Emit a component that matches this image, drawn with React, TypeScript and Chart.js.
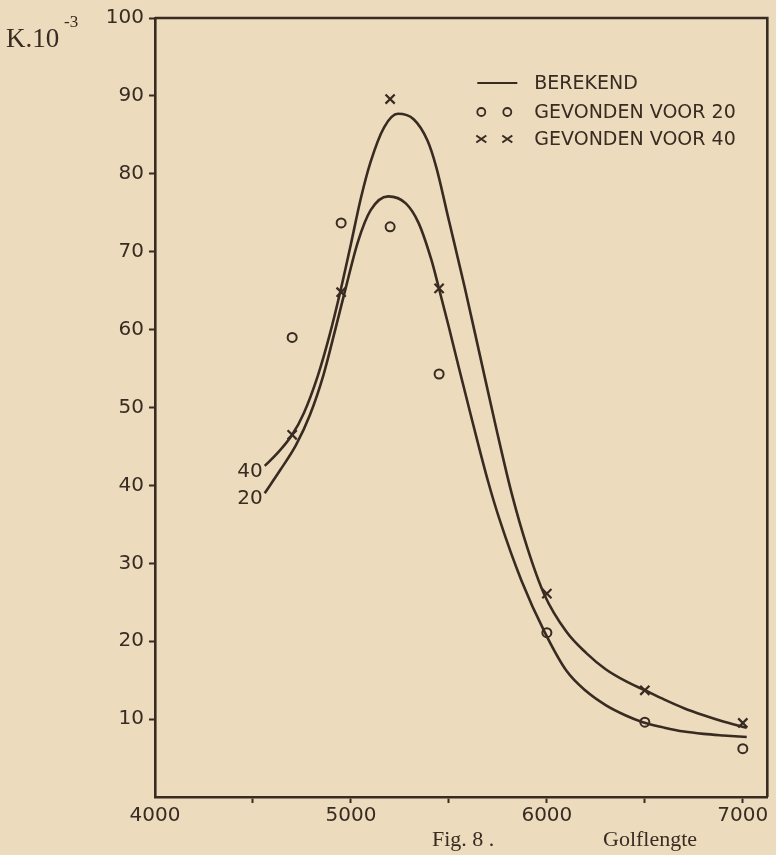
import React, { useEffect, useRef } from 'react';
import { Chart, registerables } from 'chart.js';

Chart.register(...registerables);

const BG = '#ecdbbd';
const INK = '#382b22';

// Computed curves ("BEREKEND")
const curve40Wavelengths = [4560, 4620, 4700, 4760, 4830, 4890, 4945, 5000, 5050, 5100, 5170, 5240, 5320, 5390, 5435, 5500, 5580, 5660, 5740, 5820, 5900, 5985, 6100, 6200, 6300, 6400, 6500, 6600, 6700, 6800, 6900, 7020];
const curve40Values = [42.5, 44.0, 46.5, 49.3, 54.0, 59.2, 64.8, 71, 76.8, 81.5, 86.0, 87.7, 87.0, 84.3, 80.9, 74, 65.5, 56.5, 47.5, 39, 32, 26.1, 21.2, 18.5, 16.4, 14.9, 13.7, 12.5, 11.4, 10.5, 9.7, 8.9];

const curve20Wavelengths = [4560, 4640, 4720, 4790, 4860, 4920, 4970, 5036, 5100, 5190, 5280, 5345, 5410, 5446, 5500, 5550, 5620, 5700, 5760, 5870, 5990, 6100, 6200, 6300, 6400, 6490, 6600, 6700, 6800, 6900, 7020];
const curve20Values = [39, 42, 45.2, 49, 54.2, 60, 65, 71.3, 75.3, 77.1, 76.2, 73.7, 69.0, 65.6, 60.3, 55.2, 48.2, 40.5, 35.5, 27.8, 21.1, 16.2, 13.6, 11.8, 10.5, 9.6, 8.9, 8.4, 8.1, 7.9, 7.7];

// Measured points ("GEVONDEN")
const measuredWavelengths = [4700, 4950, 5200, 5450, 6000, 6500, 7000];
const measured20 = [59, 73.7, 73.2, 54.3, 21.1, 9.6, 6.2];
const measured40 = [46.5, 64.8, 89.6, 65.3, 26.1, 13.7, 9.5];

const xTickValues = [4000, 4500, 5000, 5500, 6000, 6500, 7000];
const xLabelValues = [4000, 5000, 6000, 7000];
const yTickValues = [10, 20, 30, 40, 50, 60, 70, 80, 90, 100];

const legendLabels = ['BEREKEND', 'GEVONDEN VOOR 20', 'GEVONDEN VOOR 40'];
const curveLabels = ['40', '20'];

const toPoints = (xs: number[], ys: number[]) => xs.map((x, i) => ({ x, y: ys[i] }));

const drawCircle = (ctx: CanvasRenderingContext2D, x: number, y: number, r: number) => {
  ctx.beginPath();
  ctx.arc(x, y, r, 0, Math.PI * 2);
  ctx.stroke();
};
const drawCross = (ctx: CanvasRenderingContext2D, x: number, y: number, r: number) => {
  ctx.beginPath();
  ctx.moveTo(x - r, y - r * 0.7);
  ctx.lineTo(x + r, y + r * 0.7);
  ctx.moveTo(x - r, y + r * 0.7);
  ctx.lineTo(x + r, y - r * 0.7);
  ctx.stroke();
};

const decorPlugin = {
  id: 'decor',
  beforeDraw(chart: any) {
    const { ctx, width, height } = chart;
    ctx.save();
    ctx.fillStyle = BG;
    ctx.fillRect(0, 0, width, height);
    ctx.restore();
  },
  afterDraw(chart: any) {
    const { ctx, chartArea: a } = chart;
    ctx.save();
    ctx.strokeStyle = INK;
    ctx.fillStyle = INK;
    ctx.lineWidth = 2.6;
    ctx.beginPath();
    ctx.moveTo(a.left, a.top);
    ctx.lineTo(a.right, a.top);
    ctx.lineTo(a.right, a.bottom);
    ctx.stroke();

    // curve labels
    ctx.font = '20px "DejaVu Sans"';
    ctx.textAlign = 'right';
    ctx.textBaseline = 'middle';
    curveLabels.forEach((t, i) => {
      const p = chart.getDatasetMeta(i).data[0];
      if (p) ctx.fillText(t, p.x - 2, p.y + 6);
    });

    // legend
    const lx = a.right - 290;
    const tx = a.right - 233;
    const rows = [a.top + 65, a.top + 94, a.top + 121];
    ctx.font = '19px "DejaVu Sans"';
    ctx.textAlign = 'left';
    ctx.textBaseline = 'middle';
    legendLabels.forEach((t, i) => ctx.fillText(t, tx, rows[i] + 1));
    ctx.lineWidth = 2.2;
    ctx.beginPath();
    ctx.moveTo(lx, rows[0]);
    ctx.lineTo(lx + 40, rows[0]);
    ctx.stroke();
    ctx.lineWidth = 1.8;
    drawCircle(ctx, lx + 4, rows[1], 4);
    drawCircle(ctx, lx + 30, rows[1], 4);
    ctx.lineWidth = 2;
    drawCross(ctx, lx + 4, rows[2], 5);
    drawCross(ctx, lx + 30, rows[2], 5);

    // captions
    ctx.textBaseline = 'alphabetic';
    ctx.font = '27px "Liberation Serif"';
    ctx.fillText('K.10', 6, 47);
    ctx.font = '17px "Liberation Serif"';
    ctx.fillText('-3', 64, 27);
    ctx.font = '22px "Liberation Serif"';
    ctx.fillText('Fig. 8 .', 432, 846);
    ctx.fillText('Golflengte', 603, 846);
    ctx.restore();
  },
};

export default function App() {
  const ref = useRef<HTMLCanvasElement | null>(null);
  useEffect(() => {
    if (!ref.current) return;
    const lineStyle = {
      showLine: true,
      borderColor: INK,
      borderWidth: 2.6,
      pointRadius: 0,
      fill: false,
      cubicInterpolationMode: 'monotone' as const,
    };
    const chart = new Chart(ref.current, {
      type: 'scatter',
      data: {
        datasets: [
          { label: 'BEREKEND 40', data: toPoints(curve40Wavelengths, curve40Values), ...lineStyle },
          { label: 'BEREKEND 20', data: toPoints(curve20Wavelengths, curve20Values), ...lineStyle },
          {
            label: 'GEVONDEN VOOR 20',
            data: toPoints(measuredWavelengths, measured20),
            pointStyle: 'circle',
            pointRadius: 4.5,
            pointBorderWidth: 2,
            pointBorderColor: INK,
            pointBackgroundColor: 'rgba(0,0,0,0)',
            showLine: false,
          },
          {
            label: 'GEVONDEN VOOR 40',
            data: toPoints(measuredWavelengths, measured40),
            pointStyle: 'crossRot',
            pointRadius: 6.5,
            pointBorderWidth: 2.2,
            pointBorderColor: INK,
            pointBackgroundColor: INK,
            showLine: false,
          },
        ],
      },
      options: {
        animation: false,
        responsive: false,
        devicePixelRatio: 1,
        layout: { padding: { top: 18, right: 8, left: 0, bottom: 0 } },
        plugins: { legend: { display: false }, tooltip: { enabled: false } },
        scales: {
          x: {
            type: 'linear',
            min: 4000,
            max: 7125,
            afterFit: (s: any) => { s.height = 58; },
            afterBuildTicks: (s: any) => { s.ticks = xTickValues.map((v) => ({ value: v })); },
            ticks: {
              color: INK,
              font: { family: '"DejaVu Sans"', size: 20 },
              padding: 1,
              maxRotation: 0,
              autoSkip: false,
              callback: (v: any) => (xLabelValues.includes(Number(v)) ? String(v) : ''),
            },
            grid: {
              display: true,
              drawOnChartArea: false,
              drawTicks: true,
              tickLength: 6,
              tickWidth: 2,
              tickColor: (c: any) => (c.tick && c.tick.value === 4000 ? 'rgba(0,0,0,0)' : INK),
            },
            border: { display: true, color: INK, width: 2.6 },
          },
          y: {
            type: 'linear',
            min: 0,
            max: 100,
            afterFit: (s: any) => { s.width = 155; },
            afterBuildTicks: (s: any) => { s.ticks = yTickValues.map((v) => ({ value: v })); },
            ticks: {
              color: INK,
              font: { family: '"DejaVu Sans"', size: 20 },
              padding: 5,
              autoSkip: false,
            },
            grid: {
              display: true,
              drawOnChartArea: false,
              drawTicks: true,
              tickLength: 6,
              tickWidth: 2,
              tickColor: INK,
            },
            border: { display: true, color: INK, width: 2.6 },
          },
        },
      },
      plugins: [decorPlugin],
    });
    return () => chart.destroy();
  }, []);
  return (
    <div style={{ position: 'fixed', left: 0, top: 0, width: 776, height: 855, background: BG }}>
      <canvas ref={ref} width={776} height={855} style={{ display: 'block' }} />
    </div>
  );
}
